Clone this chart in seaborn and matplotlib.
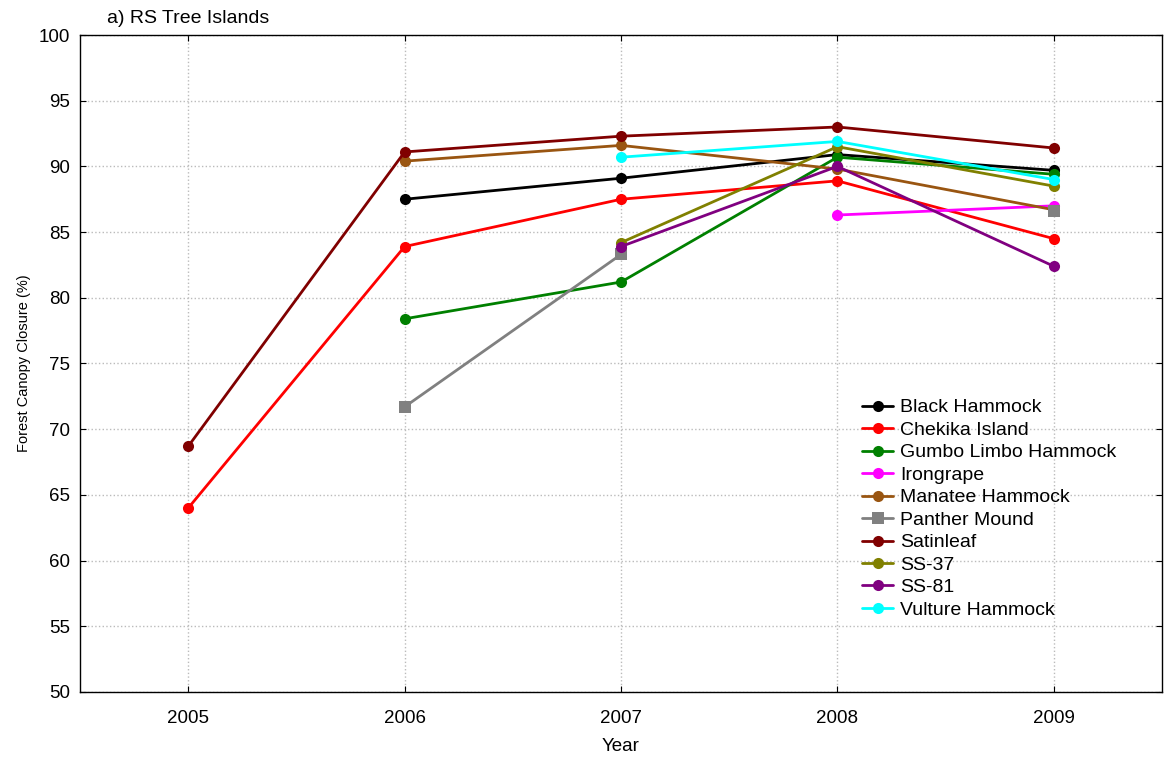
import numpy as np
import pandas as pd
import matplotlib
matplotlib.use("Agg")
import matplotlib.pyplot as plt
import seaborn as sns

# values (NaN = no survey that year)
years = [2005, 2006, 2007, 2008, 2009]
black_hammock = [np.nan, 87.5, 89.1, 90.9, 89.7]
chekika_island = [64.0, 83.9, 87.5, 88.9, 84.5]
gumbo_limbo = [np.nan, 78.4, 81.2, 90.7, 89.4]
irongrape = [np.nan, np.nan, np.nan, 86.3, 87.0]
manatee_hammock = [np.nan, 90.4, 91.6, 89.8, 86.7]
panther_mound = [np.nan, 71.7, 83.3, np.nan, 86.6]
satinleaf = [68.7, 91.1, 92.3, 93.0, 91.4]
ss_37 = [np.nan, np.nan, 84.2, 91.5, 88.5]
ss_81 = [np.nan, np.nan, 83.9, 90.0, 82.4]
vulture_hammock = [np.nan, np.nan, 90.7, 91.9, 89.0]

sites = ["Black Hammock", "Chekika Island", "Gumbo Limbo Hammock", "Irongrape",
         "Manatee Hammock", "Panther Mound", "Satinleaf", "SS-37", "SS-81",
         "Vulture Hammock"]
series = [black_hammock, chekika_island, gumbo_limbo, irongrape, manatee_hammock,
          panther_mound, satinleaf, ss_37, ss_81, vulture_hammock]
colors = ["#000000", "#FF0000", "#008000", "#FF00FF", "#995511",
          "#808080", "#800000", "#808000", "#800080", "#00FFFF"]

# long form; contiguous runs get their own segment id so gaps stay open
rows = []
for site, vals in zip(sites, series):
    seg = 0
    prev_nan = True
    for yr, v in zip(years, vals):
        if np.isnan(v):
            prev_nan = True
            continue
        if prev_nan:
            seg += 1
        prev_nan = False
        rows.append({"Year": yr, "Closure": v, "Site": site, "seg": f"{site}-{seg}"})
df = pd.DataFrame(rows)

sns.set_style("ticks")
plt.rcParams["font.family"] = ["Liberation Sans", "DejaVu Sans"]
for key in ["text.color", "axes.labelcolor", "xtick.color", "ytick.color", "axes.edgecolor"]:
    plt.rcParams[key] = "black"

fig, ax = plt.subplots(figsize=(11.67, 7.61), dpi=100)
fig.subplots_adjust(left=0.0686, right=0.9957, top=0.954, bottom=0.0907)

markers = {s: ("s" if s == "Panther Mound" else "o") for s in sites}
sns.lineplot(data=df, x="Year", y="Closure", hue="Site", style="Site",
             units="seg", estimator=None, hue_order=sites, style_order=sites,
             palette=dict(zip(sites, colors)), markers=markers, dashes=False,
             linewidth=2, markersize=8, markeredgewidth=0, ax=ax)

ax.set_xlim(2004.5, 2009.5)
ax.set_ylim(50, 100)
ax.set_xticks(years)
ax.set_yticks(range(50, 101, 5))
ax.grid(True, linestyle=":", color="#bbbbbb", linewidth=1)
ax.tick_params(direction="in", top=True, right=True, labelsize=13.5, length=4)
ax.tick_params(axis="x", pad=13)
ax.tick_params(axis="y", pad=7)
for sp in ax.spines.values():
    sp.set_linewidth(1.0)
ax.set_xlabel("Year", fontsize=13.5, labelpad=8)
ax.set_ylabel("Forest Canopy Closure (%)", fontsize=10.5, labelpad=6)
ax.set_title("a) RS Tree Islands", fontsize=14, loc="left", x=0.025, pad=9)

handles, labels = ax.get_legend_handles_labels()
ax.legend(handles, labels, loc="upper left", bbox_to_anchor=(0.716, 0.458),
          frameon=False, fontsize=14, handlelength=1.55, handletextpad=0.4,
          labelspacing=0.25, borderaxespad=0)

fig.savefig("out.png", dpi=100)
